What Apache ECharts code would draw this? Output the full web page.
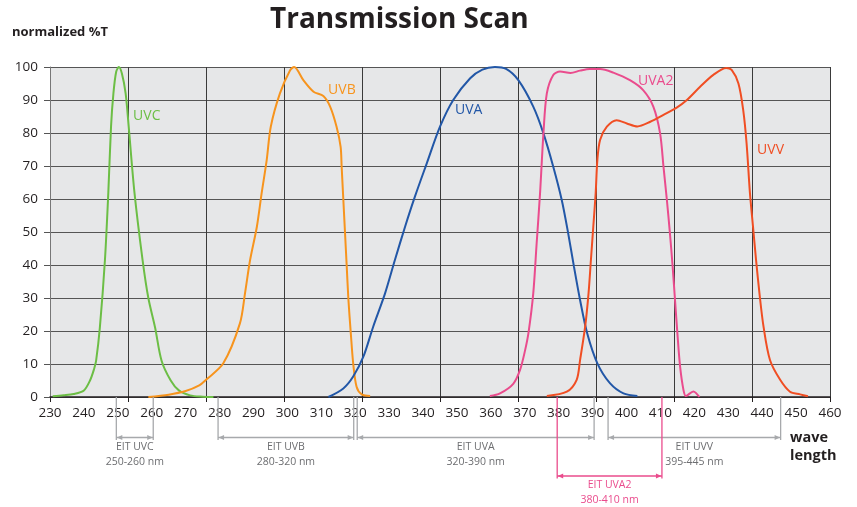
<!DOCTYPE html>
<html>
<head>
<meta charset="utf-8">
<script src="https://cdn.jsdelivr.net/npm/echarts@6/dist/echarts.min.js"></script>
<style>
  html, body { margin: 0; padding: 0; background: #fff; }
  #main { width: 857px; height: 507px; }
</style>
</head>
<body>
<div id="main"></div>
<script>
// transmission curves, [wavelength nm, normalized %T]
const uvc = [[230.8, 0.2], [234, 0.5], [237, 0.9], [240, 2], [241.8, 5], [243, 8.5], [243.6, 11], [244.7, 21], [246.2, 41.5],
  [247.2, 62], [248, 82], [248.7, 92], [249.5, 98.5], [250.3, 100], [251.2, 98], [252.3, 92], [253.2, 82], [254.9, 62],
  [257.3, 41.5], [259, 30], [261, 21], [262.9, 11], [265.6, 5], [268, 2], [271.3, 0.5], [275, 0.1], [278.2, 0]];
const uvb = [[259, 0], [265, 0.7], [270, 1.8], [274, 3.5], [276, 5.2], [281.1, 10.2], [286, 22.3], [287.5, 31.4], [289, 41.5],
  [291, 51.6], [292.4, 61.7], [293.9, 71.8], [295.1, 81.9], [297.8, 92], [300.8, 99], [302, 100], [304.7, 96], [307.7, 92.5],
  [310.6, 91.2], [312.6, 88], [314.5, 81.9], [315.7, 75.8], [316, 69.8], [316.5, 59.7], [317, 49.6], [317.5, 39.5],
  [318, 29.4], [318.7, 19.3], [319.4, 10.2], [320.4, 3.1], [321.9, 0.8], [324.4, 0.3]];
const uva = [[312.1, 0], [316.5, 2.6], [319.4, 6.2], [322.4, 12.2], [325.3, 21.3], [328.8, 31.4], [331.7, 41.5], [334.7, 51.6],
  [337.6, 60.7], [341.1, 70.8], [345, 81.9], [348.9, 90], [353.9, 96.6], [357.5, 99.2], [361.2, 100], [364.5, 99.4],
  [368.1, 96], [372.5, 88], [375.5, 79.9], [378.4, 69.8], [380.9, 59.7], [382.8, 49.6], [384.5, 39.5], [386.3, 29.4],
  [388.4, 19.3], [391.4, 10.2], [395.1, 4.2], [399.1, 1.1], [403.2, 0.3]];
const uva2 = [[359.7, 0.3], [362.7, 1.1], [366.6, 4], [368.6, 8.2], [370.1, 14.2], [371.1, 19.5], [372.5, 31.4], [373.5, 46.6],
  [374.5, 61.7], [375.5, 79.9], [376.5, 92], [378.4, 97.6], [380.4, 98.6], [383.5, 98.2], [386.3, 98.9], [389.2, 99.4],
  [392.2, 99.4], [396.1, 98.3], [401, 96], [404.9, 93], [407.9, 88], [409.9, 79.9], [410.9, 69.8], [411.9, 59.7],
  [412.8, 49.6], [413.6, 39.5], [414.3, 29.4], [415, 19.3], [415.8, 9.2], [416.8, 2.1], [417.5, 0.3], [419.7, 1.7], [421.5, 0]];
const uvv = [[376.5, 0.3], [382.4, 1.6], [385.3, 5.2], [386.3, 11.2], [387.8, 21.3], [388.8, 31.4], [389.5, 41.5], [390.2, 51.6],
  [390.9, 61.7], [391.4, 71.8], [392.2, 77.9], [394.2, 81.9], [397.1, 83.9], [400.1, 82.9], [403.2, 82], [407, 83.4],
  [410.9, 85.5], [414.8, 87.7], [417.8, 90], [421.7, 94], [425.6, 97.6], [429.4, 99.7], [431, 99.1], [433, 95], [434.4, 87],
  [435.4, 76.9], [436.4, 61.7], [437.3, 51.6], [438.2, 41.5], [439.2, 31.4], [440.4, 21.3], [442.3, 11.2], [445.3, 5.2],
  [448.2, 1.6], [451.2, 0.8], [453.5, 0.2]];

const seriesNames = ['UVC', 'UVB', 'UVA', 'UVA2', 'UVV'];
const seriesColors = ['#6cbe45', '#f7941d', '#2257a7', '#ea4c8d', '#f04e23'];
// where the curve names sit, in data coords
const nameAnchors = [[254.5, 85], [312, 93], [349.4, 87], [403.4, 95.8], [438.5, 74.8]];

// EIT wavelength bands shown under the axis
const bandNames = ['EIT UVC', 'EIT UVB', 'EIT UVA', 'EIT UVV', 'EIT UVA2'];
const bandFrom = [250, 280, 320, 395, 380];
const bandTo = [260, 320, 390, 445, 410];
const bandLevel = [0, 0, 0, 0, 1];

const xMin = 230, xMax = 460;
const yMin = 0, yMax = 100;

const font = '"Open Sans", "Noto Sans", sans-serif';
const chart = echarts.init(document.getElementById('main'));

const curves = [uvc, uvb, uva, uva2, uvv];

let option = {
  animation: false,
  textStyle: { fontFamily: font },
  title: {
    text: 'Transmission Scan',
    left: 265,
    top: 1,
    textStyle: { fontSize: 28, fontWeight: 'bold', color: '#231f20', fontFamily: font }
  },
  grid: { left: 50, right: 27, top: 67, bottom: 110, show: true, backgroundColor: '#e6e7e8', borderWidth: 0 },
  xAxis: [
    {
      type: 'value', min: xMin, max: xMax, interval: 23, position: 'bottom',
      axisLine: { show: true, lineStyle: { color: '#231f20', width: 1.5 } },
      axisTick: { show: true, length: 5, lineStyle: { color: '#231f20' } },
      axisLabel: { show: false },
      splitLine: { show: true, lineStyle: { color: '#3a3a3a', width: 1 } }
    },
    {
      type: 'value', min: xMin, max: xMax, interval: 10, position: 'bottom',
      axisLine: { show: false }, axisTick: { show: false }, splitLine: { show: false },
      axisLabel: { show: true, fontSize: 13.5, color: '#231f20', margin: 9, fontFamily: font }
    }
  ],
  yAxis: {
    type: 'value', min: yMin, max: yMax, interval: 10,
    axisLine: { show: true, lineStyle: { color: '#777', width: 1 } },
    axisTick: { show: true, length: 6, lineStyle: { color: '#555' } },
    axisLabel: { fontSize: 13.5, color: '#231f20', margin: 12, fontFamily: font },
    splitLine: { show: true, lineStyle: { color: '#555', width: 1.2 } }
  },
  series: curves.map((d, i) => ({
    name: seriesNames[i],
    type: 'line',
    data: d,
    showSymbol: false,
    smooth: 0.3,
    lineStyle: { color: seriesColors[i], width: 2 },
    itemStyle: { color: seriesColors[i] },
    z: 3
  }))
};

chart.setOption(option);

// annotations placed through the axes
const toPx = (x, y) => chart.convertToPixel({ gridIndex: 0 }, [x, y]);
const graphics = [];

graphics.push({
  type: 'text', left: 12, top: 26,
  style: { text: 'normalized %T', font: 'bold 13px ' + font, fill: '#231f20' }
});
graphics.push({
  type: 'text', left: 790, top: 429,
  style: { text: 'wave\nlength', font: 'bold 14.5px ' + font, fill: '#231f20', lineHeight: 18 }
});

seriesNames.forEach((n, i) => {
  const p = toPx(nameAnchors[i][0], nameAnchors[i][1]);
  graphics.push({
    type: 'text', x: p[0], y: p[1], z: 10,
    style: { text: n, font: '14px ' + font, fill: seriesColors[i], textVerticalAlign: 'middle' }
  });
});

const axisY = toPx(xMin, 0)[1];
bandNames.forEach((n, i) => {
  const color = bandLevel[i] ? '#ea4c8d' : '#a7a9ac';
  const textColor = bandLevel[i] ? '#ea4c8d' : '#6d6e71';
  const x1 = toPx(bandFrom[i], 0)[0] - 1.5;
  const x2 = toPx(bandTo[i], 0)[0] + (i === 1 ? -1.5 : 1.5);
  const xa = i === 2 ? x1 + 3.5 : x1;
  const by = axisY + (bandLevel[i] ? 79 : 40.5);
  const ty = axisY + (bandLevel[i] ? 81 : 43);
  const ls = { stroke: color, lineWidth: 1.3 };
  graphics.push({ type: 'line', shape: { x1: xa, y1: axisY, x2: xa, y2: by + 2.5 }, style: ls, z: 5 });
  graphics.push({ type: 'line', shape: { x1: x2, y1: axisY, x2: x2, y2: by + 2.5 }, style: ls, z: 5 });
  graphics.push({ type: 'line', shape: { x1: xa, y1: by, x2: x2, y2: by }, style: ls, z: 5 });
  graphics.push({ type: 'polygon', shape: { points: [[xa + 0.5, by], [xa + 6, by - 2.5], [xa + 6, by + 2.5]] }, style: { fill: color }, z: 5 });
  graphics.push({ type: 'polygon', shape: { points: [[x2 - 0.5, by], [x2 - 6, by - 2.5], [x2 - 6, by + 2.5]] }, style: { fill: color }, z: 5 });
  const cx = (xa + x2) / 2;
  graphics.push({
    type: 'text', x: cx, y: ty, z: 5,
    style: {
      text: n + '\n' + bandFrom[i] + '-' + bandTo[i] + ' nm',
      font: '10.5px ' + font, fill: textColor, textAlign: 'center', lineHeight: 14.5
    }
  });
});

chart.setOption({ graphic: graphics });
</script>
</body>
</html>
